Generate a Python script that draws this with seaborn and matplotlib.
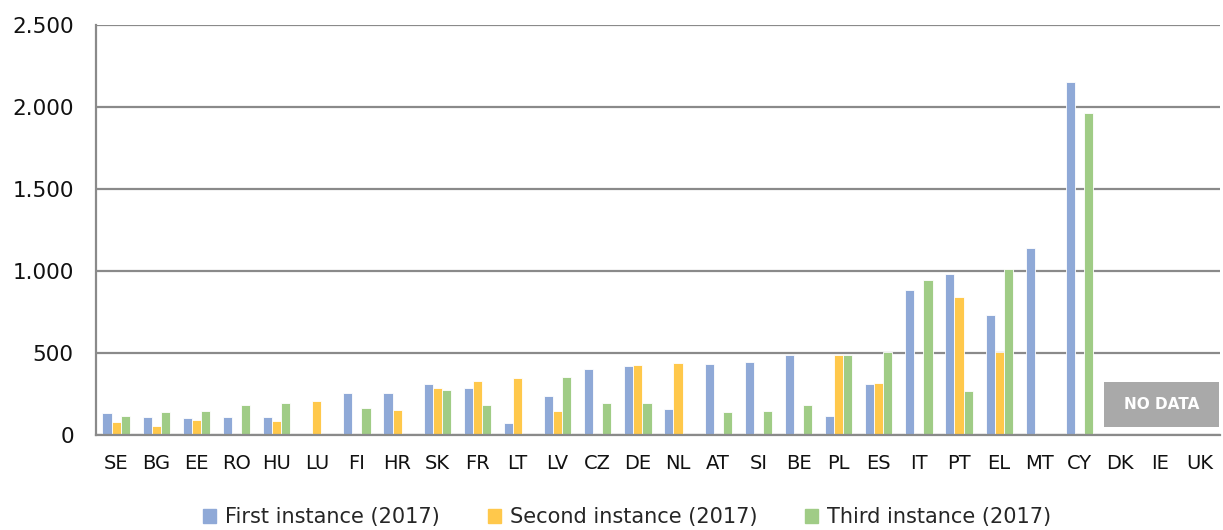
import numpy as np
import pandas as pd
import seaborn as sns
import matplotlib.pyplot as plt
import matplotlib.patches as patches
from matplotlib.ticker import FuncFormatter

# ----------------------------------------------------------
# Data
# ----------------------------------------------------------

countries = ["SE", "BG", "EE", "RO", "HU", "LU", "FI", "HR", "SK", "FR", "LT", "LV",
             "CZ", "DE", "NL", "AT", "SI", "BE", "PL", "ES", "IT", "PT", "EL", "MT",
             "CY", "DK", "IE", "UK"]

first_instance = [132, 108, 101, 108, 108, np.nan, 254, 254, 311, 288, 73, 238,
                  404, 418, 158, 435, 443, 490, 113, 314, 884, 982, 732, 1141,
                  2151, np.nan, np.nan, np.nan]
second_instance = [79, 57, 93, np.nan, 85, 209, np.nan, 150, 288, 331, 347, 144,
                   np.nan, 424, 437, np.nan, np.nan, np.nan, 490, 320, np.nan, 839, 504, np.nan,
                   np.nan, np.nan, np.nan, np.nan]
third_instance = [116, 138, 144, 181, 195, np.nan, 164, np.nan, 274, 181, np.nan, 353,
                  195, 195, np.nan, 143, 149, 185, 490, 508, 945, 266, 1014, np.nan,
                  1966, np.nan, np.nan, np.nan]

series_names = ["First instance (2017)", "Second instance (2017)", "Third instance (2017)"]
colors = ["#8FA9D7", "#FFC84B", "#A0CC86"]

# long form table for seaborn
df = pd.DataFrame({
    "country": countries * 3,
    "value": first_instance + second_instance + third_instance,
    "series": [s for s in series_names for _ in countries],
})

# ----------------------------------------------------------
# Plot
# ----------------------------------------------------------

sns.set_style("white")
plt.rcParams["font.family"] = ["DejaVu Sans"]

fig = plt.figure(figsize=(12.23, 5.30), dpi=100)
ax = fig.add_axes([0.0785, 0.1792, 0.919, 0.7736])

sns.barplot(data=df, x="country", y="value", hue="series", order=countries,
            hue_order=series_names, palette=colors, width=0.68, gap=0,
            edgecolor="white", linewidth=0.6, saturation=1, errorbar=None, ax=ax)

grid_c = "#8a8a8a"
ax.set_ylim(0, 2500)
ax.set_xlim(-0.5, len(countries) - 0.5)
ax.set_yticks(np.arange(0, 2501, 500))
ax.yaxis.set_major_formatter(FuncFormatter(lambda v, p: f"{int(v):,}".replace(",", ".")))
ax.grid(axis="y", color=grid_c, linewidth=1.6)
ax.set_axisbelow(True)

for side in ["top", "right"]:
    ax.spines[side].set_visible(False)
for side in ["left", "bottom"]:
    ax.spines[side].set_color(grid_c)
    ax.spines[side].set_linewidth(1.6)

ax.set_xlabel("")
ax.set_ylabel("")
ax.tick_params(axis="y", length=8, width=1.6, color=grid_c, labelsize=15.5,
               labelcolor="#111111", pad=8)
ax.tick_params(axis="x", which="major", length=0, labelsize=14, labelcolor="#111111", pad=14)
ax.set_xticks(np.arange(-0.5, len(countries), 1), minor=True)
ax.tick_params(axis="x", which="minor", length=6, width=1.6, color=grid_c)

# grey "NO DATA" box over DK / IE / UK
ax.add_patch(patches.Rectangle((24.61, 47), 2.87, 274, facecolor="#a9a9a9",
                               edgecolor="none", zorder=3))
ax.text(26.05, 184, "NO DATA", color="white", fontsize=11, fontweight="bold",
        ha="center", va="center", zorder=4)

ax.get_legend().remove()
handles = [patches.Patch(color=c) for c in colors]
fig.legend(handles, series_names, loc="center", bbox_to_anchor=(0.513, 0.024),
           ncol=3, frameon=False, fontsize=15, handlelength=0.6, handleheight=0.6,
           handletextpad=0.45, columnspacing=2.3)

plt.savefig("out.png", dpi=100)
